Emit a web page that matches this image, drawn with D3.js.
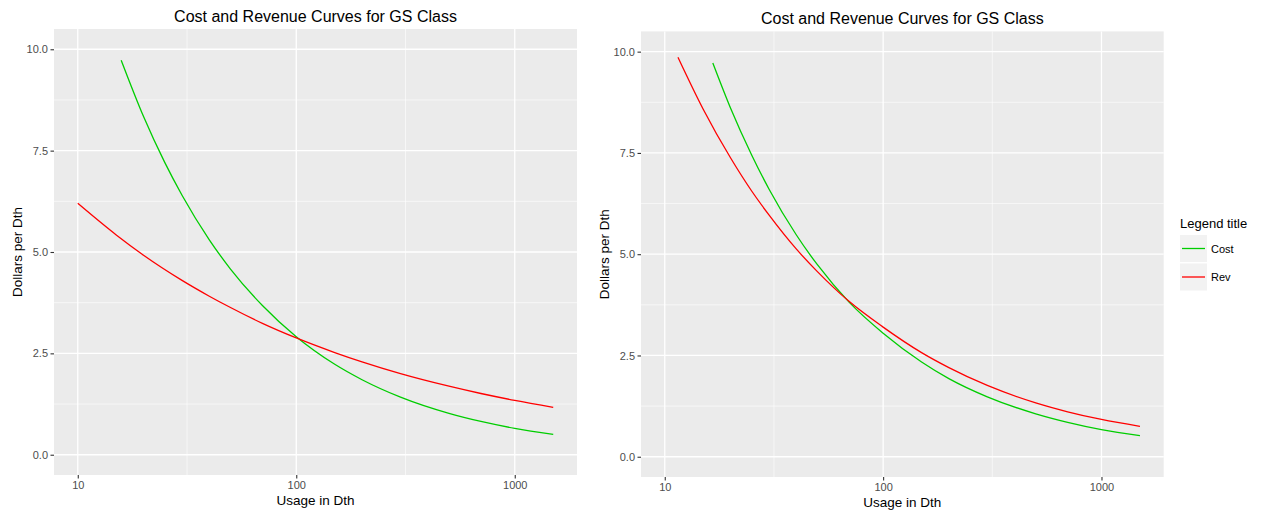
<!DOCTYPE html>
<html>
<head>
<meta charset="utf-8">
<script src="https://cdn.jsdelivr.net/npm/d3@7"></script>
<style>
  html, body { margin: 0; padding: 0; background: #fff; }
  svg { display: block; font-family: "Liberation Sans", Arial, sans-serif; }
</style>
</head>
<body>
<svg id="chart" width="1261" height="510"></svg>
<script>
// ---- Data ----
const chartTitle = "Cost and Revenue Curves for GS Class";
const xAxisTitle = "Usage in Dth";
const yAxisTitle = "Dollars per Dth";
const xTicks = [10, 100, 1000];
const xTickLabels = ["10", "100", "1000"];
const yTicks = [0, 2.5, 5, 7.5, 10];
const yTickLabels = ["0.0", "2.5", "5.0", "7.5", "10.0"];
const seriesNames = ["Cost", "Rev"];
const seriesColors = ["#00CD00", "#FF0000"];
const legendTitle = "Legend title";

// Left panel
const leftCostUsage = [15.8, 20, 25, 30, 40, 50, 70, 100, 150, 200, 300, 500, 700, 1000, 1500];
const leftCostValue = [9.73, 8.34, 7.21, 6.40, 5.30, 4.58, 3.68, 2.91, 2.23, 1.85, 1.42, 1.02, 0.82, 0.65, 0.50];
const leftRevUsage  = [10, 15, 20, 30, 40, 50, 70, 100, 150, 200, 300, 500, 700, 1000, 1500];
const leftRevValue  = [6.20, 5.42, 4.92, 4.30, 3.91, 3.63, 3.24, 2.88, 2.52, 2.29, 2.00, 1.69, 1.51, 1.34, 1.17];

// Right panel
const rightCostUsage = [16.6, 20, 25, 30, 40, 50, 70, 100, 150, 200, 300, 500, 700, 1000, 1500];
const rightCostValue = [9.72, 8.61, 7.45, 6.61, 5.48, 4.74, 3.81, 3.05, 2.34, 1.93, 1.48, 1.06, 0.85, 0.67, 0.52];
const rightRevUsage  = [11.5, 15, 20, 25, 30, 40, 50, 70, 100, 150, 200, 300, 500, 700, 1000, 1500];
const rightRevValue  = [9.86, 8.58, 7.38, 6.56, 5.97, 5.13, 4.57, 3.83, 3.20, 2.57, 2.20, 1.76, 1.33, 1.11, 0.92, 0.75];

const xDomain = [10, 1500];
const yDomain = [0, 10];

// ---- Drawing ----
const svg = d3.select("#chart");
svg.append("rect").attr("width", 1261).attr("height", 510).attr("fill", "#fff");

function expandLog(d) {
  const a = Math.log10(d[0]), b = Math.log10(d[1]), e = (b - a) * 0.05;
  return [Math.pow(10, a - e), Math.pow(10, b + e)];
}
function expandLin(d) {
  const e = (d[1] - d[0]) * 0.05;
  return [d[0] - e, d[1] + e];
}

function drawPanel(p) {
  const g = svg.append("g");
  const x = d3.scaleLog().domain(expandLog(xDomain)).range([p.left, p.right]);
  const y = d3.scaleLinear().domain(expandLin(yDomain)).range([p.bottom, p.top]);

  // panel background
  g.append("rect").attr("x", p.left).attr("y", p.top)
    .attr("width", p.right - p.left).attr("height", p.bottom - p.top)
    .attr("fill", "#EBEBEB");

  // minor grid
  const yMinor = yTicks.slice(0, -1).map((t, i) => (t + yTicks[i + 1]) / 2);
  const xMinor = xTicks.slice(0, -1).map((t, i) => Math.sqrt(t * xTicks[i + 1]));
  g.selectAll(".ymin").data(yMinor).join("line")
    .attr("x1", p.left).attr("x2", p.right)
    .attr("y1", d => y(d)).attr("y2", d => y(d))
    .attr("stroke", "#fff").attr("stroke-width", 0.6);
  g.selectAll(".xmin").data(xMinor).join("line")
    .attr("y1", p.top).attr("y2", p.bottom)
    .attr("x1", d => x(d)).attr("x2", d => x(d))
    .attr("stroke", "#fff").attr("stroke-width", 0.6);
  // major grid
  g.selectAll(".ymaj").data(yTicks).join("line")
    .attr("x1", p.left).attr("x2", p.right)
    .attr("y1", d => y(d)).attr("y2", d => y(d))
    .attr("stroke", "#fff").attr("stroke-width", 1.3);
  g.selectAll(".xmaj").data(xTicks).join("line")
    .attr("y1", p.top).attr("y2", p.bottom)
    .attr("x1", d => x(d)).attr("x2", d => x(d))
    .attr("stroke", "#fff").attr("stroke-width", 1.3);

  // axes
  const xAxis = d3.axisBottom(x).tickValues(xTicks)
    .tickFormat((d, i) => xTickLabels[i]).tickSize(3.5).tickPadding(3);
  const gx = g.append("g").attr("transform", `translate(0,${p.bottom})`).call(xAxis);
  const yAxis = d3.axisLeft(y).tickValues(yTicks)
    .tickFormat((d, i) => yTickLabels[i]).tickSize(3.5).tickPadding(2.5);
  const gy = g.append("g").attr("transform", `translate(${p.left},0)`).call(yAxis);
  [gx, gy].forEach(a => {
    a.select(".domain").remove();
    a.selectAll(".tick line").attr("stroke", "#333").attr("stroke-width", 1.1);
    a.selectAll(".tick text").attr("fill", "#4D4D4D").style("fill", "#4D4D4D")
      .attr("font-family", "Liberation Sans, Arial, sans-serif").attr("font-size", 11);
  });

  // lines
  const line = d3.line().x(d => x(d[0])).y(d => y(d[1])).curve(d3.curveMonotoneX);
  p.series.forEach((s, i) => {
    const pts = s.usage.map((u, k) => [u, s.value[k]]);
    g.append("path").datum(pts).attr("d", line)
      .attr("fill", "none").attr("stroke", seriesColors[i]).attr("stroke-width", 1.3);
  });

  // titles
  const cx = (p.left + p.right) / 2;
  g.append("text").attr("x", cx).attr("y", p.titleY).attr("text-anchor", "middle")
    .attr("font-size", 16).attr("fill", "#000").text(chartTitle);
  g.append("text").attr("x", cx).attr("y", p.xTitleY).attr("text-anchor", "middle")
    .attr("font-size", 13.5).attr("fill", "#000").text(xAxisTitle);
  g.append("text")
    .attr("transform", `translate(${p.yTitleX},${(p.top + p.bottom) / 2}) rotate(-90)`)
    .attr("text-anchor", "middle").attr("font-size", 13.5).attr("fill", "#000").text(yAxisTitle);
}

drawPanel({
  left: 54, right: 577, top: 29, bottom: 475,
  titleY: 22, xTitleY: 505, yTitleX: 22,
  series: [
    { usage: leftCostUsage, value: leftCostValue },
    { usage: leftRevUsage, value: leftRevValue }
  ]
});
drawPanel({
  left: 641, right: 1163.7, top: 31.4, bottom: 477,
  titleY: 24, xTitleY: 507, yTitleX: 609,
  series: [
    { usage: rightCostUsage, value: rightCostValue },
    { usage: rightRevUsage, value: rightRevValue }
  ]
});

// legend
const lg = svg.append("g");
lg.append("text").attr("x", 1180).attr("y", 228).attr("font-size", 13).attr("fill", "#000").text(legendTitle);
seriesNames.forEach((name, i) => {
  const top = 235 + i * 28.5;
  lg.append("rect").attr("x", 1180).attr("y", top).attr("width", 27).attr("height", 27).attr("fill", "#F2F2F2");
  lg.append("line").attr("x1", 1182).attr("x2", 1205)
    .attr("y1", top + 13.5).attr("y2", top + 13.5)
    .attr("stroke", seriesColors[i]).attr("stroke-width", 1.3);
  lg.append("text").attr("x", 1211).attr("y", top + 17.5).attr("font-size", 11).attr("fill", "#000").text(name);
});
</script>
</body>
</html>
